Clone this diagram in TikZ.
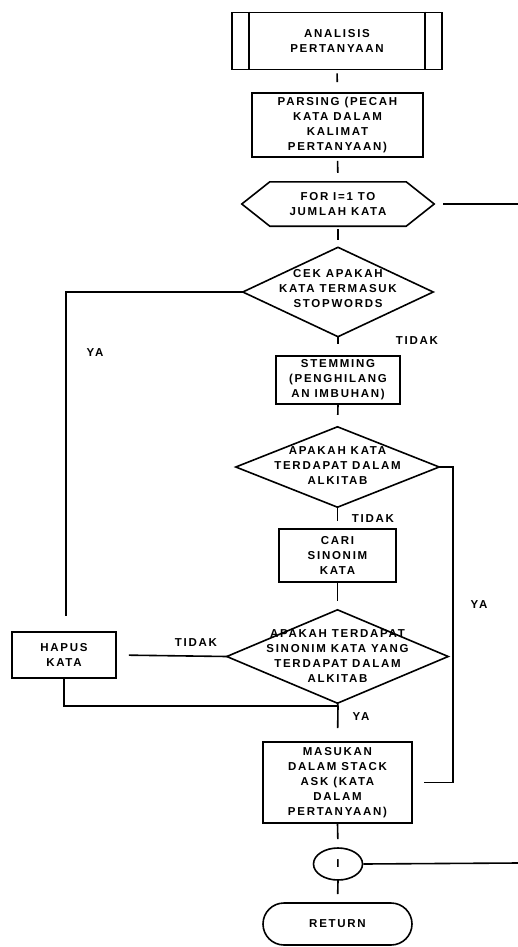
\documentclass[tikz,border=0pt]{standalone}
\usepackage{fontspec}
\setmainfont{Liberation Sans}[LetterSpace=15]
\newfontfamily\flowfont{Liberation Sans Bold}[LetterSpace=15]
\usetikzlibrary{calc,shapes.geometric}
\begin{document}
\begin{tikzpicture}[x=1pt,y=-1pt,
  txt/.style={font=\flowfont\fontsize{11.5}{15}\selectfont, align=center, inner sep=0pt},
  box/.style={txt, draw, line width=1.6pt},
  shp/.style={txt},
  lbl/.style={font=\flowfont\fontsize{11.5}{12}\selectfont, inner sep=0pt},
  ln/.style={line width=1.6pt}]
\useasboundingbox (0,0) rectangle (518,947);
% nodes
\node[box, minimum width=210pt, minimum height=57pt] (anal) at (337,41) {ANALISIS\\PERTANYAAN};
\node[box, minimum width=171pt, minimum height=64pt] (pars) at (337.5,125) {PARSING (PECAH\\KATA DALAM\\KALIMAT\\PERTANYAAN)};
\node[shp, minimum width=192pt, minimum height=44pt] (for) at (338,204) {FOR I=1 TO\\JUMLAH KATA};
\node[shp, minimum width=190pt, minimum height=89pt] (d1) at (338,292) {};
\node[txt] (d1t) at (338,289) {CEK APAKAH\\KATA TERMASUK\\STOPWORDS};
\node[box, minimum width=124pt, minimum height=48pt] (stem) at (338,380) {STEMMING\\(PENGHILANG\\AN IMBUHAN)};
\node[shp, minimum width=203pt, minimum height=80pt] (d2) at (337.5,467) {};
\node[txt] (d2t) at (337.5,466) {APAKAH KATA\\TERDAPAT DALAM\\ALKITAB};
\node[box, minimum width=117pt, minimum height=53pt] (cari) at (337.5,555.5) {CARI\\SINONIM\\KATA};
\node[shp, minimum width=221pt, minimum height=93pt] (d3) at (337.5,656.5) {};
\node[txt] (d3t) at (337.5,656) {APAKAH TERDAPAT\\SINONIM KATA YANG\\TERDAPAT DALAM\\ALKITAB};
\node[box, minimum width=104pt, minimum height=46pt] (hapus) at (64,655) {HAPUS\\KATA};
\node[box, minimum width=149pt, minimum height=81pt] (masuk) at (337.5,782.5) {MASUKAN\\DALAM STACK\\ASK (KATA\\DALAM\\PERTANYAAN)};
\node[box, ellipse, minimum width=49pt, minimum height=32pt] (circ) at (338,864) {I};
\node[box, rounded corners=21pt, minimum width=149pt, minimum height=42pt] (ret) at (337.5,924) {RETURN};
% shape outlines
\draw[ln] ([xshift=18pt]anal.north west) -- ([xshift=18pt]anal.south west);
\draw[ln] ([xshift=-18pt]anal.north east) -- ([xshift=-18pt]anal.south east);
\draw[ln] (for.west) -- ([xshift=28pt]for.north west) -- ([xshift=-28pt]for.north east) -- (for.east) -- ([xshift=-28pt]for.south east) -- ([xshift=28pt]for.south west) -- cycle;
\draw[ln] (d1.north) -- (d1.east) -- (d1.south) -- (d1.west) -- cycle;
\draw[ln] (d2.north) -- (d2.east) -- (d2.south) -- (d2.west) -- cycle;
\draw[ln] (d3.north) -- (d3.east) -- (d3.south) -- (d3.west) -- cycle;
% free ends
\coordinate (forend) at (518,204);
\coordinate (circend) at (518,863);
\coordinate (j) at (338,706);
% connectors
\draw[ln, shorten <=3pt, shorten >=10pt] (anal.south) -- (pars.north);
\draw[ln, shorten <=3pt, shorten >=9pt] (pars.south) -- (for.north);
\draw[ln, shorten <=3pt, shorten >=7pt] (for.south) -- (d1.north);
\draw[ln, shorten >=11pt] (d1.south) -- (stem.north);
\draw[ln, shorten >=12pt] (stem.south) -- (d2.north);
\draw[ln, shorten >=7pt] (d2.south) -- (cari.north);
\draw[ln, shorten >=9pt] (cari.south) -- (d3.north);
\draw[ln, shorten >=8pt] (masuk.south) -- (circ.north);
\draw[ln, shorten >=8pt] (circ.south) -- (ret.north);
\draw[ln, shorten <=9pt] (for.east) -- (forend);
\draw[ln] (circ.east) -- (circend);
\draw[ln, shorten >=15pt] (d1.west) -| ([xshift=2pt]hapus.north);
\draw[ln, shorten >=11pt] (d2.east) -- ++(14,0) |- (masuk.east);
\draw[ln, shorten >=12pt] (d3.west) -- (hapus.east);
\draw[ln] (hapus.south) |- (j);
\draw[ln, shorten >=13pt] (d3.south) -- (j) -- (masuk.north);
% labels
\node[lbl] (ya1) at (95,353) {YA};
\node[lbl] (tidak1) at (417,341) {TIDAK};
\node[lbl] (tidak2) at (373,519) {TIDAK};
\node[lbl] (ya2) at (479,605) {YA};
\node[lbl] (tidak3) at (196,643) {TIDAK};
\node[lbl] (ya3) at (361,717) {YA};
\end{tikzpicture}
\end{document}
